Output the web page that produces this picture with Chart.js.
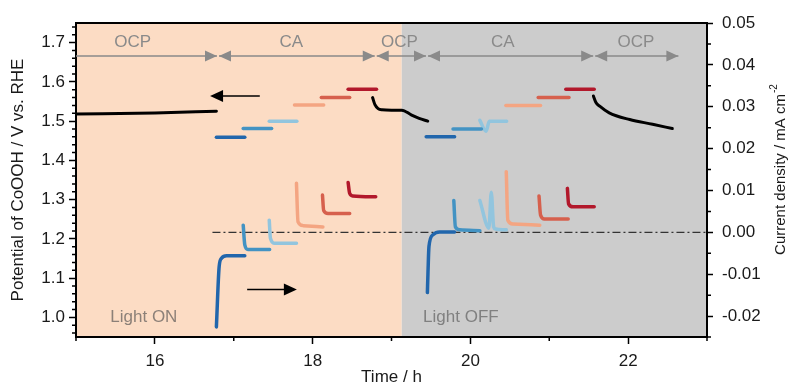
<!DOCTYPE html>
<html>
<head>
<meta charset="utf-8">
<script src="https://cdn.jsdelivr.net/npm/chart.js@4.4.1/dist/chart.umd.min.js"></script>
<style>
  html, body { margin: 0; padding: 0; background: #fff; }
  #wrap { width: 790px; height: 388px; }
</style>
</head>
<body>
<div id="wrap"><canvas id="statsChart"></canvas></div>
<script>
// ==========================================
// DATA  (time in h, potential in V vs RHE, current in mA cm-2)
// ==========================================
const stepColors = ["#2166ac", "#4393c3", "#92c5de", "#f4a582", "#d6604d", "#b2182b"];

// tick labels
const timeTicks = [16, 18, 20, 22];
const potentialTicks = [1.0, 1.1, 1.2, 1.3, 1.4, 1.5, 1.6, 1.7];
const currentTicks = [-0.02, -0.01, 0.0, 0.01, 0.02, 0.03, 0.04, 0.05];

// light ON / OFF background bands
const bandFrom = [15, 19.13];
const bandTo = [19.13, 23];
const bandColors = ["#fcdcc4", "#cccccc"];
const bandLabels = ["Light ON", "Light OFF"];
const bandLabelX = [15.86, 19.88];

// phase annotations on top
const phaseBounds = [15, 16.8, 18.8, 19.45, 21.57, 22.65];
const phaseLabels = ["OCP", "CA", "OCP", "CA", "OCP"];
const phaseLabelX = [15.72, 17.73, 19.1, 20.41, 22.1];

// open circuit potential
const ocp1Time = [15.0, 16.0, 16.78];
const ocp1Pot = [1.518, 1.521, 1.525];
const ocp2Time = [18.76, 18.79, 18.83, 18.88, 19.0, 19.13, 19.25, 19.35, 19.46];
const ocp2Pot = [1.560, 1.542, 1.532, 1.529, 1.528, 1.528, 1.516, 1.507, 1.500];
const ocp3Time = [21.56, 21.59, 21.64, 21.76, 22.02, 22.31, 22.56];
const ocp3Pot = [1.564, 1.548, 1.538, 1.521, 1.504, 1.492, 1.481];

// CA potential steps, light ON
const caOnPotTime = [
  [16.78, 17.14], [17.12, 17.48], [17.45, 17.80],
  [17.77, 18.14], [18.11, 18.47], [18.45, 18.81],
];
const caOnPot = [
  [1.459, 1.459], [1.481, 1.481], [1.500, 1.500],
  [1.541, 1.541], [1.560, 1.560], [1.581, 1.581],
];
// CA potential steps, light OFF
const caOffPotTime = [
  [19.44, 19.80], [19.78, 20.14], [20.12, 20.20, 20.24, 20.46],
  [20.45, 20.89], [20.86, 21.25], [21.21, 21.57],
];
const caOffPot = [
  [1.460, 1.460], [1.480, 1.480], [1.502, 1.474, 1.500, 1.500],
  [1.540, 1.540], [1.560, 1.560], [1.581, 1.581],
];

// CA current transients, light ON
const caOnCurTime = [
  [16.78, 16.815, 16.845, 16.91, 17.14],
  [17.12, 17.14, 17.18, 17.455],
  [17.45, 17.465, 17.52, 17.795],
  [17.795, 17.815, 17.88, 18.13],
  [18.125, 18.14, 18.195, 18.47],
  [18.45, 18.47, 18.51, 18.80],
];
const caOnCur = [
  [-0.0226, -0.0082, -0.0062, -0.0056, -0.0056],
  [0.0017, -0.0030, -0.0041, -0.0041],
  [0.0029, -0.0014, -0.0026, -0.0026],
  [0.0117, 0.0025, 0.0016, 0.0013],
  [0.0089, 0.0052, 0.0045, 0.0045],
  [0.0119, 0.0093, 0.0087, 0.0085],
];
// CA current transients, light OFF
const caOffCurTime = [
  [19.455, 19.462, 19.475, 19.525, 19.61, 19.80],
  [19.79, 19.81, 19.865, 20.12],
  [20.12, 20.235, 20.265, 20.295, 20.32, 20.455],
  [20.455, 20.475, 20.54, 20.88],
  [20.87, 20.89, 20.94, 21.24],
  [21.23, 21.245, 21.30, 21.57],
];
const caOffCur = [
  [-0.0144, -0.0100, -0.0034, -0.0006, 0.0001, 0.0001],
  [0.0076, 0.0013, 0.0006, 0.0004],
  [0.0076, 0.0010, 0.0096, 0.0013, 0.0008, 0.0006],
  [0.0145, 0.0029, 0.0020, 0.0017],
  [0.0087, 0.0041, 0.0032, 0.0032],
  [0.0105, 0.0068, 0.0061, 0.0061],
];

// direction arrows [tail time, tip time, potential]
const arrowTail = [17.33, 17.17];
const arrowTip = [16.70, 17.80];
const arrowPot = [1.564, 1.071];

const zeroLineStart = 16.73;

const FONT = "'Liberation Sans', Arial, sans-serif";
const INK = "#1a1a1a";
const NOTE_GRAY = "#8a8a8a";

// ==========================================
// DATASETS
// ==========================================
function makeSeries(times, values, color, axis, width) {
  return {
    data: times.map((t, i) => ({ x: t, y: values[i] })),
    yAxisID: axis,
    borderColor: color,
    backgroundColor: color,
    borderWidth: width,
    pointRadius: 0,
    fill: false,
    cubicInterpolationMode: "monotone",
    borderCapStyle: "round",
    borderJoinStyle: "round",
  };
}

const datasets = [];
datasets.push(makeSeries(ocp1Time, ocp1Pot, "#000", "y", 3));
datasets.push(makeSeries(ocp2Time, ocp2Pot, "#000", "y", 3));
datasets.push(makeSeries(ocp3Time, ocp3Pot, "#000", "y", 3));
stepColors.forEach((c, i) => {
  datasets.push(makeSeries(caOnPotTime[i], caOnPot[i], c, "y", 3.5));
  datasets.push(makeSeries(caOffPotTime[i], caOffPot[i], c, "y", 3.5));
  datasets.push(makeSeries(caOnCurTime[i], caOnCur[i], c, "y1", 3.5));
  datasets.push(makeSeries(caOffCurTime[i], caOffCur[i], c, "y1", 3.5));
});

// ==========================================
// PLUGINS
// ==========================================
const bandPlugin = {
  id: "bands",
  beforeDraw(chart) {
    const { ctx, chartArea: a, scales } = chart;
    ctx.save();
    bandFrom.forEach((from, i) => {
      const x0 = scales.x.getPixelForValue(from);
      const x1 = scales.x.getPixelForValue(bandTo[i]);
      ctx.fillStyle = bandColors[i];
      ctx.fillRect(x0, a.top, x1 - x0, a.bottom - a.top);
    });
    ctx.restore();
  },
  beforeDatasetsDraw(chart) {
    const { ctx, chartArea: a, scales } = chart;
    ctx.save();
    // zero current line
    const y0 = scales.y1.getPixelForValue(0);
    ctx.strokeStyle = "#333";
    ctx.lineWidth = 1.2;
    ctx.setLineDash([8, 3, 2, 3]);
    ctx.beginPath();
    ctx.moveTo(scales.x.getPixelForValue(zeroLineStart), y0);
    ctx.lineTo(a.right, y0);
    ctx.stroke();
    ctx.setLineDash([]);

    // light labels
    ctx.font = "17px " + FONT;
    ctx.textAlign = "center";
    ctx.textBaseline = "middle";
    bandLabels.forEach((txt, i) => {
      ctx.fillStyle = i === 0 ? "#8c8078" : "#808080";
      ctx.fillText(txt, scales.x.getPixelForValue(bandLabelX[i]), scales.y.getPixelForValue(1.0));
    });

    // phase arrows
    const yA = scales.y.getPixelForValue(1.666);
    ctx.strokeStyle = NOTE_GRAY;
    ctx.fillStyle = NOTE_GRAY;
    ctx.lineWidth = 1.5;
    const head = (tipX, dir) => {
      ctx.beginPath();
      ctx.moveTo(tipX, yA);
      ctx.lineTo(tipX - dir * 12, yA - 5.5);
      ctx.lineTo(tipX - dir * 12, yA + 5.5);
      ctx.closePath();
      ctx.fill();
    };
    for (let i = 0; i < phaseLabels.length; i++) {
      const x0 = scales.x.getPixelForValue(phaseBounds[i]) + (i === 0 ? 0 : 1);
      const x1 = scales.x.getPixelForValue(phaseBounds[i + 1]) - 1;
      ctx.beginPath();
      ctx.moveTo(x0, yA);
      ctx.lineTo(x1, yA);
      ctx.stroke();
      if (i > 0) head(x0, -1);
      head(x1, 1);
      ctx.font = "17px " + FONT;
      ctx.fillText(phaseLabels[i], scales.x.getPixelForValue(phaseLabelX[i]), scales.y.getPixelForValue(1.702));
    }

    // direction arrows
    ctx.strokeStyle = "#000";
    ctx.fillStyle = "#000";
    ctx.lineWidth = 1.5;
    arrowTail.forEach((tail, i) => {
      const xt = scales.x.getPixelForValue(tail);
      const xh = scales.x.getPixelForValue(arrowTip[i]);
      const y = scales.y.getPixelForValue(arrowPot[i]);
      const dir = Math.sign(xh - xt);
      ctx.beginPath();
      ctx.moveTo(xt, y);
      ctx.lineTo(xh - dir * 10, y);
      ctx.stroke();
      ctx.beginPath();
      ctx.moveTo(xh, y);
      ctx.lineTo(xh - dir * 13, y - 6);
      ctx.lineTo(xh - dir * 13, y + 6);
      ctx.closePath();
      ctx.fill();
    });
    ctx.restore();
  },
  afterDraw(chart) {
    const { ctx, chartArea: a, scales } = chart;
    ctx.save();
    ctx.strokeStyle = "#000";
    // top frame line
    ctx.lineWidth = 2;
    ctx.beginPath();
    ctx.moveTo(a.left - 1, a.top);
    ctx.lineTo(a.right + 1, a.top);
    ctx.stroke();

    // minor ticks
    ctx.lineWidth = 1.5;
    ctx.beginPath();
    for (let h = 15; h <= 23; h++) {
      if (h % 2 === 0) continue;
      const x = scales.x.getPixelForValue(h);
      ctx.moveTo(x, a.bottom);
      ctx.lineTo(x, a.bottom + 4);
    }
    for (let k = 48; k <= 87; k++) {
      if (k % 5 === 0) continue;
      const y = scales.y.getPixelForValue(k * 0.02);
      ctx.moveTo(a.left, y);
      ctx.lineTo(a.left - 4, y);
    }
    for (let k = -5; k <= 9; k += 2) {
      const y = scales.y1.getPixelForValue(k * 0.005);
      ctx.moveTo(a.right, y);
      ctx.lineTo(a.right + 4, y);
    }
    ctx.stroke();

    // right axis title, reading bottom to top
    ctx.fillStyle = INK;
    ctx.translate(781, 170);
    ctx.rotate(-Math.PI / 2);
    ctx.textBaseline = "middle";
    ctx.textAlign = "left";
    const main = "Current density / mA cm";
    ctx.font = "15px " + FONT;
    const mainW = ctx.measureText(main).width;
    ctx.font = "10px " + FONT;
    const supW = ctx.measureText("-2").width;
    const start = -(mainW + supW) / 2;
    ctx.font = "15px " + FONT;
    ctx.fillText(main, start, 0);
    ctx.font = "10px " + FONT;
    ctx.fillText("-2", start + mainW + 1, -7);
    ctx.restore();
  },
};

// ==========================================
// CHART
// ==========================================
const axisGrid = (len) => ({
  drawOnChartArea: false,
  drawTicks: true,
  tickLength: len,
  tickColor: "#000",
  tickWidth: 1.5,
});

const fixTicks = (values) => (scale) => {
  scale.ticks = values.map((v) => ({ value: v }));
};

const ctx = document.getElementById("statsChart").getContext("2d");
new Chart(ctx, {
  type: "line",
  data: { datasets },
  plugins: [bandPlugin],
  options: {
    responsive: true,
    maintainAspectRatio: false,
    animation: false,
    layout: { padding: { top: 23, left: 0, right: 0, bottom: 0 } },
    scales: {
      x: {
        type: "linear",
        position: "bottom",
        min: 15,
        max: 23,
        afterBuildTicks: fixTicks(timeTicks),
        afterFit: (s) => { s.height = 51; },
        border: { color: "#000", width: 2 },
        grid: axisGrid(7),
        ticks: {
          color: INK,
          padding: 7,
          maxRotation: 0,
          autoSkip: false,
          font: { family: FONT, size: 17 },
          callback: (v) => String(Math.round(v)),
        },
        title: {
          display: true,
          text: "Time / h",
          color: INK,
          padding: { top: 0, bottom: 0 },
          font: { family: FONT, size: 17 },
        },
      },
      y: {
        type: "linear",
        position: "left",
        min: 0.95,
        max: 1.75,
        afterBuildTicks: fixTicks(potentialTicks),
        afterFit: (s) => { s.width = 76; },
        border: { color: "#000", width: 2 },
        grid: axisGrid(7),
        ticks: {
          color: INK,
          padding: 4,
          autoSkip: false,
          font: { family: FONT, size: 17 },
          callback: (v) => Number(v).toFixed(1),
        },
        title: {
          display: true,
          text: "Potential of CoOOH / V vs. RHE",
          color: INK,
          padding: { top: 8, bottom: 0 },
          font: { family: FONT, size: 17 },
        },
      },
      y1: {
        type: "linear",
        position: "right",
        min: -0.025,
        max: 0.05,
        afterBuildTicks: fixTicks(currentTicks),
        afterFit: (s) => { s.width = 83; },
        border: { color: "#000", width: 2 },
        grid: axisGrid(6),
        ticks: {
          color: INK,
          padding: 9,
          autoSkip: false,
          font: { family: FONT, size: 17 },
          callback: (v) => Number(v).toFixed(2),
        },
      },
    },
    plugins: {
      legend: { display: false },
      tooltip: { enabled: false },
    },
  },
});
</script>
</body>
</html>
